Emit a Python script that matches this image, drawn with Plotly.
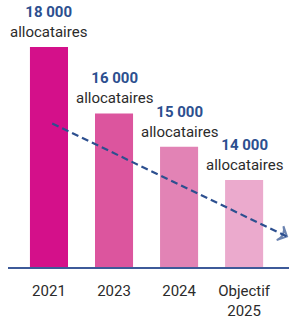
import plotly.graph_objects as go

categories = ["2021", "2023", "2024", "Objectif<br>2025"]
values = [18000, 16000, 15000, 14000]
value_labels = ["18 000", "16 000", "15 000", "14 000"]
unit_label = "allocataires"
bar_colors = ["#d4108a", "#dc559e", "#e283b5", "#ebaacd"]

# trend arrow (in category-index / value units)
trend_x = [0.05, 3.66]
trend_y = [15700, 12300]

x_idx = list(range(len(categories)))

fig = go.Figure()
fig.add_trace(go.Bar(
    x=x_idx, y=values, width=0.585,
    marker=dict(color=bar_colors, line=dict(width=0)),
    hoverinfo="skip",
))
fig.add_trace(go.Scatter(
    x=trend_x, y=trend_y, mode="lines+markers",
    line=dict(color="#2c4f8f", width=2.2, dash="7px,4px"),
    marker=dict(symbol=["circle", "arrow-wide-open"], size=[0, 11],
                angleref="previous", color="#2c4f8f",
                line=dict(color="#2c4f8f", width=2)),
    hoverinfo="skip",
))

for i, (v, lab) in enumerate(zip(values, value_labels)):
    fig.add_annotation(
        x=i, y=v, xref="x", yref="y",
        text=f"<b><span style='color:#2c4f8f;font-size:15px'>{lab}</span></b><br>{unit_label}",
        showarrow=False, yanchor="bottom", yshift=4,
        font=dict(family="Roboto", size=15, color="#2b2b2b"),
    )

fig.update_layout(
    width=289, height=318,
    margin=dict(l=8, r=0, t=0, b=50),
    paper_bgcolor="white", plot_bgcolor="white",
    showlegend=False,
    font=dict(family="Roboto", size=15, color="#2b2b2b"),
    xaxis=dict(
        range=[-0.63, 3.69], tickmode="array", tickvals=x_idx, ticktext=categories,
        showgrid=False, zeroline=False, showline=False, ticks="",
        ticklabelstandoff=12,
        tickfont=dict(family="Roboto", size=15, color="#2b2b2b"),
        fixedrange=True, automargin=False,
    ),
    yaxis=dict(
        range=[11353, 19413], visible=False, showgrid=False, fixedrange=True,
    ),
    shapes=[dict(type="line", xref="paper", yref="paper", x0=0, x1=1, y0=0, y1=0,
                 line=dict(color="#3d5a99", width=2))],
)

fig.write_html("out.html", config={"displayModeBar": False},
               post_script="document.body.style.margin='0';document.body.style.overflow='hidden';")
